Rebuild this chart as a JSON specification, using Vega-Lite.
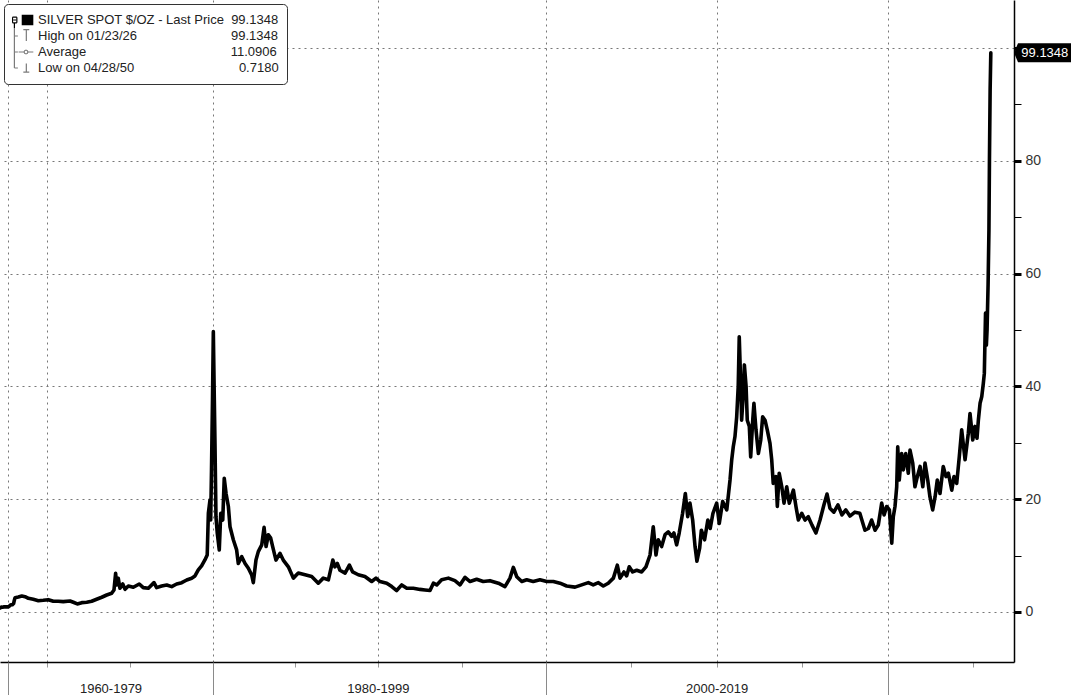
{
  "$schema": "https://vega.github.io/schema/vega-lite/v6.json",
  "width": 1014,
  "height": 662,
  "autosize": {"type": "none"},
  "padding": {"left": 0, "top": 0, "right": 57, "bottom": 33},
  "background": "white",
  "config": {"view": {"stroke": null}, "font": "Liberation Sans"},
  "resolve": {"axis": {"x": "independent", "y": "independent"}},
  "datasets": {
    "series": [
      {"year": 1950.00, "price": 0.75}, {"year": 1950.32, "price": 0.718}, {"year": 1951.5, "price": 0.88}, {"year": 1953.0, "price": 0.85},
      {"year": 1955.0, "price": 0.9}, {"year": 1957.0, "price": 0.91}, {"year": 1959.0, "price": 0.91}, {"year": 1960.5, "price": 0.91},
      {"year": 1962.0, "price": 1.08}, {"year": 1963.5, "price": 1.29}, {"year": 1965.5, "price": 1.29}, {"year": 1967.0, "price": 1.5},
      {"year": 1967.6, "price": 1.9}, {"year": 1968.04, "price": 2.54}, {"year": 1968.24, "price": 2.66}, {"year": 1968.45, "price": 2.84},
      {"year": 1968.65, "price": 2.71}, {"year": 1968.85, "price": 2.43}, {"year": 1969.15, "price": 2.25}, {"year": 1969.46, "price": 2.0},
      {"year": 1969.76, "price": 2.07}, {"year": 1970.07, "price": 2.18}, {"year": 1970.37, "price": 1.9}, {"year": 1970.67, "price": 1.9},
      {"year": 1970.97, "price": 1.83}, {"year": 1971.38, "price": 1.95}, {"year": 1971.58, "price": 1.72}, {"year": 1971.82, "price": 1.42},
      {"year": 1972.09, "price": 1.65}, {"year": 1972.39, "price": 1.72}, {"year": 1972.69, "price": 1.9}, {"year": 1972.99, "price": 2.25},
      {"year": 1973.30, "price": 2.61}, {"year": 1973.60, "price": 3.01}, {"year": 1973.90, "price": 3.32}, {"year": 1974.04, "price": 3.9},
      {"year": 1974.14, "price": 6.86}, {"year": 1974.20, "price": 4.79}, {"year": 1974.30, "price": 5.98}, {"year": 1974.40, "price": 4.2},
      {"year": 1974.57, "price": 4.96}, {"year": 1974.71, "price": 4.02}, {"year": 1974.91, "price": 4.61}, {"year": 1975.21, "price": 4.38},
      {"year": 1975.57, "price": 4.96}, {"year": 1975.81, "price": 4.31}, {"year": 1976.12, "price": 4.2}, {"year": 1976.46, "price": 5.2},
      {"year": 1976.62, "price": 4.31}, {"year": 1976.93, "price": 4.61}, {"year": 1977.23, "price": 4.79}, {"year": 1977.53, "price": 4.49},
      {"year": 1977.83, "price": 4.96}, {"year": 1978.14, "price": 5.2}, {"year": 1978.44, "price": 5.67}, {"year": 1978.74, "price": 5.98},
      {"year": 1978.94, "price": 6.38}, {"year": 1979.14, "price": 7.45}, {"year": 1979.34, "price": 8.16}, {"year": 1979.54, "price": 9.22},
      {"year": 1979.68, "price": 10.1}, {"year": 1979.75, "price": 17.5}, {"year": 1979.85, "price": 19.9}, {"year": 1979.89, "price": 16.3},
      {"year": 1979.94, "price": 25.2}, {"year": 1980.00, "price": 37.6}, {"year": 1980.05, "price": 49.7}, {"year": 1980.11, "price": 37.6},
      {"year": 1980.15, "price": 29.9}, {"year": 1980.21, "price": 16.9}, {"year": 1980.29, "price": 13.95}, {"year": 1980.41, "price": 11.0},
      {"year": 1980.50, "price": 17.5}, {"year": 1980.62, "price": 16.3}, {"year": 1980.71, "price": 23.7}, {"year": 1980.82, "price": 21.0},
      {"year": 1980.96, "price": 18.7}, {"year": 1981.06, "price": 15.1}, {"year": 1981.26, "price": 12.8}, {"year": 1981.46, "price": 11.0},
      {"year": 1981.56, "price": 8.6}, {"year": 1981.77, "price": 9.8}, {"year": 1981.97, "price": 8.6}, {"year": 1982.17, "price": 7.75},
      {"year": 1982.37, "price": 6.56}, {"year": 1982.47, "price": 5.2}, {"year": 1982.63, "price": 9.2}, {"year": 1982.77, "price": 10.7},
      {"year": 1982.98, "price": 11.9}, {"year": 1983.12, "price": 15.0}, {"year": 1983.24, "price": 11.6}, {"year": 1983.38, "price": 13.7},
      {"year": 1983.52, "price": 13.1}, {"year": 1983.64, "price": 11.6}, {"year": 1983.84, "price": 9.2}, {"year": 1984.08, "price": 10.4},
      {"year": 1984.28, "price": 9.2}, {"year": 1984.59, "price": 8.0}, {"year": 1984.89, "price": 6.0}, {"year": 1985.19, "price": 6.9},
      {"year": 1985.60, "price": 6.6}, {"year": 1986.00, "price": 6.3}, {"year": 1986.40, "price": 5.1}, {"year": 1986.70, "price": 6.0},
      {"year": 1987.01, "price": 5.7}, {"year": 1987.28, "price": 9.2}, {"year": 1987.41, "price": 8.0}, {"year": 1987.55, "price": 8.6},
      {"year": 1987.71, "price": 7.4}, {"year": 1988.02, "price": 6.9}, {"year": 1988.28, "price": 8.3}, {"year": 1988.48, "price": 7.1},
      {"year": 1988.82, "price": 6.6}, {"year": 1989.22, "price": 6.3}, {"year": 1989.63, "price": 5.4}, {"year": 1989.89, "price": 6.0},
      {"year": 1990.13, "price": 5.4}, {"year": 1990.53, "price": 5.1}, {"year": 1990.83, "price": 4.5}, {"year": 1991.12, "price": 3.8},
      {"year": 1991.42, "price": 4.8}, {"year": 1991.72, "price": 4.2}, {"year": 1992.11, "price": 4.2}, {"year": 1992.51, "price": 4.0},
      {"year": 1992.80, "price": 3.9}, {"year": 1993.10, "price": 3.8}, {"year": 1993.30, "price": 5.1}, {"year": 1993.50, "price": 4.8},
      {"year": 1993.79, "price": 5.7}, {"year": 1994.19, "price": 6.0}, {"year": 1994.58, "price": 5.55}, {"year": 1994.88, "price": 4.8},
      {"year": 1995.18, "price": 6.15}, {"year": 1995.48, "price": 5.4}, {"year": 1995.87, "price": 5.8}, {"year": 1996.26, "price": 5.4},
      {"year": 1996.66, "price": 5.55}, {"year": 1997.16, "price": 5.1}, {"year": 1997.55, "price": 4.5}, {"year": 1997.85, "price": 6.0},
      {"year": 1998.05, "price": 7.9}, {"year": 1998.25, "price": 6.25}, {"year": 1998.55, "price": 5.4}, {"year": 1998.84, "price": 5.7},
      {"year": 1999.23, "price": 5.4}, {"year": 1999.63, "price": 5.7}, {"year": 2000.03, "price": 5.4}, {"year": 2000.42, "price": 5.4},
      {"year": 2000.81, "price": 5.1}, {"year": 2001.20, "price": 4.6}, {"year": 2001.69, "price": 4.4}, {"year": 2002.08, "price": 4.8},
      {"year": 2002.47, "price": 5.2}, {"year": 2002.76, "price": 4.8}, {"year": 2003.06, "price": 5.2}, {"year": 2003.35, "price": 4.6},
      {"year": 2003.64, "price": 5.1}, {"year": 2003.94, "price": 6.0}, {"year": 2004.17, "price": 8.3}, {"year": 2004.33, "price": 6.0},
      {"year": 2004.56, "price": 7.1}, {"year": 2004.72, "price": 6.4}, {"year": 2004.87, "price": 8.0}, {"year": 2005.07, "price": 7.1},
      {"year": 2005.31, "price": 7.4}, {"year": 2005.60, "price": 7.1}, {"year": 2005.85, "price": 8.0}, {"year": 2006.09, "price": 10.1},
      {"year": 2006.28, "price": 15.1}, {"year": 2006.44, "price": 10.1}, {"year": 2006.57, "price": 12.8}, {"year": 2006.77, "price": 11.6},
      {"year": 2006.97, "price": 13.7}, {"year": 2007.16, "price": 14.2}, {"year": 2007.36, "price": 13.4}, {"year": 2007.49, "price": 14.0},
      {"year": 2007.65, "price": 11.9}, {"year": 2007.80, "price": 14.0}, {"year": 2008.00, "price": 17.5}, {"year": 2008.16, "price": 21.0},
      {"year": 2008.30, "price": 16.9}, {"year": 2008.43, "price": 19.3}, {"year": 2008.59, "price": 16.3}, {"year": 2008.73, "price": 11.6},
      {"year": 2008.84, "price": 9.0}, {"year": 2009.00, "price": 11.3}, {"year": 2009.10, "price": 14.5}, {"year": 2009.29, "price": 12.8},
      {"year": 2009.48, "price": 16.3}, {"year": 2009.62, "price": 14.8}, {"year": 2009.78, "price": 17.5}, {"year": 2010.00, "price": 19.3},
      {"year": 2010.15, "price": 15.7}, {"year": 2010.35, "price": 19.6}, {"year": 2010.59, "price": 18.1}, {"year": 2010.78, "price": 23.4},
      {"year": 2010.88, "price": 27.0}, {"year": 2010.97, "price": 29.3}, {"year": 2011.07, "price": 31.1}, {"year": 2011.17, "price": 34.6},
      {"year": 2011.26, "price": 40.0}, {"year": 2011.32, "price": 48.8}, {"year": 2011.41, "price": 40.0}, {"year": 2011.46, "price": 34.0},
      {"year": 2011.56, "price": 38.8}, {"year": 2011.62, "price": 43.8}, {"year": 2011.72, "price": 40.0}, {"year": 2011.79, "price": 34.0},
      {"year": 2011.91, "price": 32.9}, {"year": 2011.99, "price": 27.5}, {"year": 2012.11, "price": 34.0}, {"year": 2012.18, "price": 37.0},
      {"year": 2012.30, "price": 32.3}, {"year": 2012.44, "price": 28.1}, {"year": 2012.58, "price": 30.5}, {"year": 2012.69, "price": 34.6},
      {"year": 2012.83, "price": 34.0}, {"year": 2012.96, "price": 32.3}, {"year": 2013.12, "price": 29.9}, {"year": 2013.22, "price": 27.0},
      {"year": 2013.31, "price": 22.8}, {"year": 2013.47, "price": 24.0}, {"year": 2013.55, "price": 18.7}, {"year": 2013.66, "price": 24.6},
      {"year": 2013.81, "price": 22.2}, {"year": 2013.94, "price": 19.3}, {"year": 2014.10, "price": 22.2}, {"year": 2014.25, "price": 19.3},
      {"year": 2014.49, "price": 21.6}, {"year": 2014.64, "price": 18.7}, {"year": 2014.78, "price": 16.3}, {"year": 2014.98, "price": 17.5},
      {"year": 2015.17, "price": 16.3}, {"year": 2015.36, "price": 16.9}, {"year": 2015.58, "price": 15.4}, {"year": 2015.81, "price": 14.0},
      {"year": 2016.05, "price": 16.3}, {"year": 2016.28, "price": 19.0}, {"year": 2016.46, "price": 20.9}, {"year": 2016.63, "price": 18.4},
      {"year": 2016.86, "price": 17.7}, {"year": 2017.10, "price": 19.0}, {"year": 2017.33, "price": 17.2}, {"year": 2017.56, "price": 18.1},
      {"year": 2017.80, "price": 17.0}, {"year": 2018.09, "price": 17.7}, {"year": 2018.38, "price": 17.5}, {"year": 2018.68, "price": 14.5},
      {"year": 2018.88, "price": 14.8}, {"year": 2019.07, "price": 16.3}, {"year": 2019.27, "price": 14.5}, {"year": 2019.46, "price": 15.4},
      {"year": 2019.66, "price": 19.3}, {"year": 2019.80, "price": 17.2}, {"year": 2019.95, "price": 18.7}, {"year": 2020.11, "price": 18.1},
      {"year": 2020.25, "price": 12.2}, {"year": 2020.34, "price": 16.9}, {"year": 2020.44, "price": 18.7}, {"year": 2020.54, "price": 22.2},
      {"year": 2020.60, "price": 29.3}, {"year": 2020.69, "price": 23.4}, {"year": 2020.83, "price": 28.1}, {"year": 2020.93, "price": 25.2},
      {"year": 2021.07, "price": 28.1}, {"year": 2021.22, "price": 24.6}, {"year": 2021.32, "price": 28.7}, {"year": 2021.48, "price": 26.4},
      {"year": 2021.61, "price": 22.2}, {"year": 2021.75, "price": 24.0}, {"year": 2021.91, "price": 25.8}, {"year": 2022.07, "price": 22.2},
      {"year": 2022.20, "price": 26.4}, {"year": 2022.36, "price": 23.4}, {"year": 2022.49, "price": 20.4}, {"year": 2022.65, "price": 18.1},
      {"year": 2022.79, "price": 20.4}, {"year": 2022.92, "price": 23.4}, {"year": 2023.08, "price": 21.0}, {"year": 2023.27, "price": 25.8},
      {"year": 2023.43, "price": 24.0}, {"year": 2023.57, "price": 24.6}, {"year": 2023.77, "price": 21.6}, {"year": 2023.90, "price": 24.0},
      {"year": 2024.06, "price": 22.8}, {"year": 2024.21, "price": 27.5}, {"year": 2024.35, "price": 32.3}, {"year": 2024.55, "price": 27.0},
      {"year": 2024.74, "price": 31.7}, {"year": 2024.84, "price": 35.2}, {"year": 2025.00, "price": 30.5}, {"year": 2025.13, "price": 32.9},
      {"year": 2025.25, "price": 30.8}, {"year": 2025.33, "price": 34.0}, {"year": 2025.43, "price": 37.0}, {"year": 2025.53, "price": 38.2},
      {"year": 2025.62, "price": 40.5}, {"year": 2025.68, "price": 42.3}, {"year": 2025.75, "price": 53.0}, {"year": 2025.80, "price": 47.3},
      {"year": 2025.84, "price": 50.0}, {"year": 2025.90, "price": 58.0}, {"year": 2025.95, "price": 67.7}, {"year": 2025.98, "price": 80.1},
      {"year": 2026.02, "price": 92.6}, {"year": 2026.06, "price": 99.1348}
    ],
    "stats": [
      {"stat": "last", "year": 2026.06, "price": 99.1348},
      {"stat": "high", "year": 2026.06, "price": 99.1348},
      {"stat": "avg", "price": 11.0906},
      {"stat": "low", "year": 1950.32, "price": 0.718}
    ]
  },
  "layer": [
    {
      "data": {"name": "series"},
      "mark": {"type": "line", "color": "#000", "strokeWidth": 3.6, "strokeJoin": "round", "strokeCap": "round"},
      "encoding": {
        "x": {
          "field": "year", "type": "quantitative",
          "scale": {"domain": [1950, 1968, 1970, 1980, 1990, 2000, 2010, 2020, 2027.42], "range": [0, 14.4, 47.2, 212.5, 377.8, 546.2, 716.7, 887.5, 1014], "nice": false, "zero": false},
          "axis": {
            "orient": "bottom",
            "title": null,
            "values": [1960, 1970, 1973.83, 1975, 1980, 1985, 1990, 1995, 2000, 2005, 2010, 2015, 2020, 2025],
            "labelExpr": "datum.value === 1973.83 ? '1960-1979' : datum.value === 1990 ? '1980-1999' : datum.value === 2010 ? '2000-2019' : ''",
            "labelFont": "Liberation Sans", "labelFontSize": 13, "labelColor": "#222",
            "labelBaseline": "middle", "labelPadding": 21, "labelOverlap": false, "labelFlush": false,
            "domainColor": "#000", "domainWidth": 1.5,
            "tickColor": "#999",
            "tickSize": 5,
            "tickOpacity": {"condition": {"test": "datum.value === 1973.83", "value": 0}, "value": 1},
            "tickWidth": 1,
            "grid": true, "gridDash": [2, 4], "gridColor": "#777", "gridWidth": 1,
            "gridOpacity": {"condition": {"test": "datum.value % 10 === 0", "value": 1}, "value": 0}
          }
        },
        "y": {
          "field": "price", "type": "quantitative",
          "scale": {"domain": [-8.87, 108.5], "nice": false, "zero": false},
          "axis": {
            "orient": "right", "title": null,
            "values": [0, 10, 20, 30, 40, 50, 60, 70, 80, 90, 100],
            "format": "d",
            "labelExpr": "datum.value % 20 === 0 && datum.value < 100 ? datum.label : ''",
            "labelFont": "Liberation Sans", "labelFontSize": 14, "labelColor": "#333",
            "labelPadding": 4, "labelBaseline": "middle", "labelAlign": "left", "labelOverlap": false, "labelFlush": false,
            "domainColor": "#000", "domainWidth": 1.5,
            "tickColor": "#000",
            "tickSize": 7,
            "tickWidth": {"condition": {"test": "datum.value % 20 === 0", "value": 3}, "value": 1},
            "grid": true, "gridDash": [2, 4], "gridColor": "#777", "gridWidth": 1,
            "gridOpacity": {"condition": {"test": "datum.value % 20 === 0", "value": 1}, "value": 0}
          }
        }
      }
    },
    {
      "data": {"name": "stats"},
      "mark": {"type": "point", "filled": false, "opacity": 0, "size": 196, "strokeWidth": 1.2},
      "encoding": {
        "shape": {
          "field": "stat", "type": "nominal",
          "scale": {
            "domain": ["last", "high", "avg", "low"],
            "range": [
              "M-0.8,-1.14 L-0.8,-1.14 M-1.07,-0.4 L-0.45,-0.4 M-0.45,-0.4 L-0.45,0.4 M-0.45,0.4 L-1.07,0.4 M-1.07,0.4 L-1.07,-0.4 M-0.96,0 L-0.56,0 M-0.8,0.4 L-0.8,1.14 M0.244,-0.66 L1.904,-0.66 M0.244,-0.51 L1.904,-0.51 M0.244,-0.36 L1.904,-0.36 M0.244,-0.22 L1.904,-0.22 M0.244,-0.07 L1.904,-0.07 M0.244,0.07 L1.904,0.07 M0.244,0.22 L1.904,0.22 M0.244,0.36 L1.904,0.36 M0.244,0.51 L1.904,0.51 M0.244,0.66 L1.904,0.66",
              "M-0.8,-1.14 L-0.8,1.14 M-0.8,0 L-0.3,0 M0.474,-0.91 L1.324,-0.91 M0.904,-0.91 L0.904,0.71",
              "M-0.8,-1.14 L-0.8,1.14 M-0.8,0 L-0.3,0 M-0.2,0 L0.564,0 M1.144,0 L1.904,0 M1.144,0 L1.004,0.25 M1.004,0.25 L0.714,0.25 M0.714,0.25 L0.564,0 M0.564,0 L0.714,-0.25 M0.714,-0.25 L1.004,-0.25 M1.004,-0.25 L1.144,0",
              "M-0.8,-1.14 L-0.8,0 M-0.8,0 L-0.3,0 M-0.8,1.14 L-0.8,1.14 M0.904,-0.64 L0.904,0.6 M0.474,0.6 L1.324,0.6"
            ]
          },
          "legend": {
            "title": null, "orient": "top-left", "offset": 4, "padding": 8,
            "fillColor": "white", "strokeColor": "#333", "cornerRadius": 4,
            "symbolSize": 196, "symbolStrokeWidth": 1.2, "symbolOpacity": 1,
            "labelFont": "Liberation Sans", "labelFontSize": 13, "labelColor": "#222", "labelLimit": 400, "labelOffset": 10,
            "clipHeight": 16, "rowPadding": 0,
            "labelExpr": "datum.value === 'last' ? 'SILVER SPOT $/OZ - Last Price\u00a0\u00a099.1348' : datum.value === 'high' ? 'High on 01/23/26\u00a0\u00a0\u00a0\u00a0\u00a0\u00a0\u00a0\u00a0\u00a0\u00a0\u00a0\u00a0\u00a0\u00a0\u00a0\u00a0\u00a0\u00a0\u00a0\u00a0\u00a0\u00a0\u00a0\u00a0\u00a0\u00a099.1348' : datum.value === 'avg' ? 'Average\u00a0\u00a0\u00a0\u00a0\u00a0\u00a0\u00a0\u00a0\u00a0\u00a0\u00a0\u00a0\u00a0\u00a0\u00a0\u00a0\u00a0\u00a0\u00a0\u00a0\u00a0\u00a0\u00a0\u00a0\u00a0\u00a0\u00a0\u00a0\u00a0\u00a0\u00a0\u00a0\u00a0\u00a0\u00a0\u00a0\u00a0\u00a0\u00a0\u00a011.0906' : 'Low on 04/28/50\u00a0\u00a0\u00a0\u00a0\u00a0\u00a0\u00a0\u00a0\u00a0\u00a0\u00a0\u00a0\u00a0\u00a0\u00a0\u00a0\u00a0\u00a0\u00a0\u00a0\u00a0\u00a0\u00a0\u00a0\u00a0\u00a0\u00a0\u00a0\u00a00.7180'"
          }
        },
        "color": {
          "field": "stat", "type": "nominal",
          "scale": {"domain": ["last", "high", "avg", "low"], "range": ["#000000", "#7a7a7a", "#7a7a7a", "#7a7a7a"]},
          "legend": {
            "title": null, "orient": "top-left", "offset": 4, "padding": 8,
            "fillColor": "white", "strokeColor": "#333", "cornerRadius": 4,
            "symbolSize": 196, "symbolStrokeWidth": 1.2, "symbolOpacity": 1,
            "labelFont": "Liberation Sans", "labelFontSize": 13, "labelColor": "#222", "labelLimit": 400, "labelOffset": 10,
            "clipHeight": 16, "rowPadding": 0,
            "labelExpr": "datum.value === 'last' ? 'SILVER SPOT $/OZ - Last Price\u00a0\u00a099.1348' : datum.value === 'high' ? 'High on 01/23/26\u00a0\u00a0\u00a0\u00a0\u00a0\u00a0\u00a0\u00a0\u00a0\u00a0\u00a0\u00a0\u00a0\u00a0\u00a0\u00a0\u00a0\u00a0\u00a0\u00a0\u00a0\u00a0\u00a0\u00a0\u00a0\u00a099.1348' : datum.value === 'avg' ? 'Average\u00a0\u00a0\u00a0\u00a0\u00a0\u00a0\u00a0\u00a0\u00a0\u00a0\u00a0\u00a0\u00a0\u00a0\u00a0\u00a0\u00a0\u00a0\u00a0\u00a0\u00a0\u00a0\u00a0\u00a0\u00a0\u00a0\u00a0\u00a0\u00a0\u00a0\u00a0\u00a0\u00a0\u00a0\u00a0\u00a0\u00a0\u00a0\u00a0\u00a011.0906' : 'Low on 04/28/50\u00a0\u00a0\u00a0\u00a0\u00a0\u00a0\u00a0\u00a0\u00a0\u00a0\u00a0\u00a0\u00a0\u00a0\u00a0\u00a0\u00a0\u00a0\u00a0\u00a0\u00a0\u00a0\u00a0\u00a0\u00a0\u00a0\u00a0\u00a0\u00a00.7180'"
          }
        }
      }
    },
    {
      "data": {"name": "stats"},
      "transform": [{"filter": "datum.stat === 'last'"}],
      "mark": {"type": "point", "shape": "M2.32,0 L2.72,-0.95 L8.2,-0.95 L8.2,0.95 L2.72,0.95 Z", "size": 400, "filled": true, "color": "#000", "opacity": 1},
      "encoding": {
        "x": {
          "field": "year", "type": "quantitative",
          "scale": {"domain": [1950, 1968, 1970, 1980, 1990, 2000, 2010, 2020, 2027.42], "range": [0, 14.4, 47.2, 212.5, 377.8, 546.2, 716.7, 887.5, 1014], "nice": false, "zero": false},
          "axis": {
            "orient": "bottom", "title": null,
            "values": [1960, 1980, 2000, 2020],
            "labels": false, "domain": false, "grid": false,
            "ticks": true, "tickSize": 33, "tickColor": "#8a8a8a", "tickWidth": 1
          }
        },
        "y": {"field": "price", "type": "quantitative", "axis": null, "scale": {"domain": [-8.87, 108.5], "nice": false, "zero": false}}
      }
    },
    {
      "data": {"name": "stats"},
      "transform": [{"filter": "datum.stat === 'last'"}],
      "mark": {"type": "text", "dx": 54, "align": "center", "baseline": "middle", "color": "#ffffff", "fontSize": 13, "font": "Liberation Sans"},
      "encoding": {
        "x": {"field": "year", "type": "quantitative", "axis": null, "scale": {"domain": [1950, 1968, 1970, 1980, 1990, 2000, 2010, 2020, 2027.42], "range": [0, 14.4, 47.2, 212.5, 377.8, 546.2, 716.7, 887.5, 1014], "nice": false, "zero": false}},
        "y": {"field": "price", "type": "quantitative", "axis": null, "scale": {"domain": [-8.87, 108.5], "nice": false, "zero": false}},
        "text": {"field": "price", "type": "quantitative", "format": ".4f"}
      }
    }
  ]
}
